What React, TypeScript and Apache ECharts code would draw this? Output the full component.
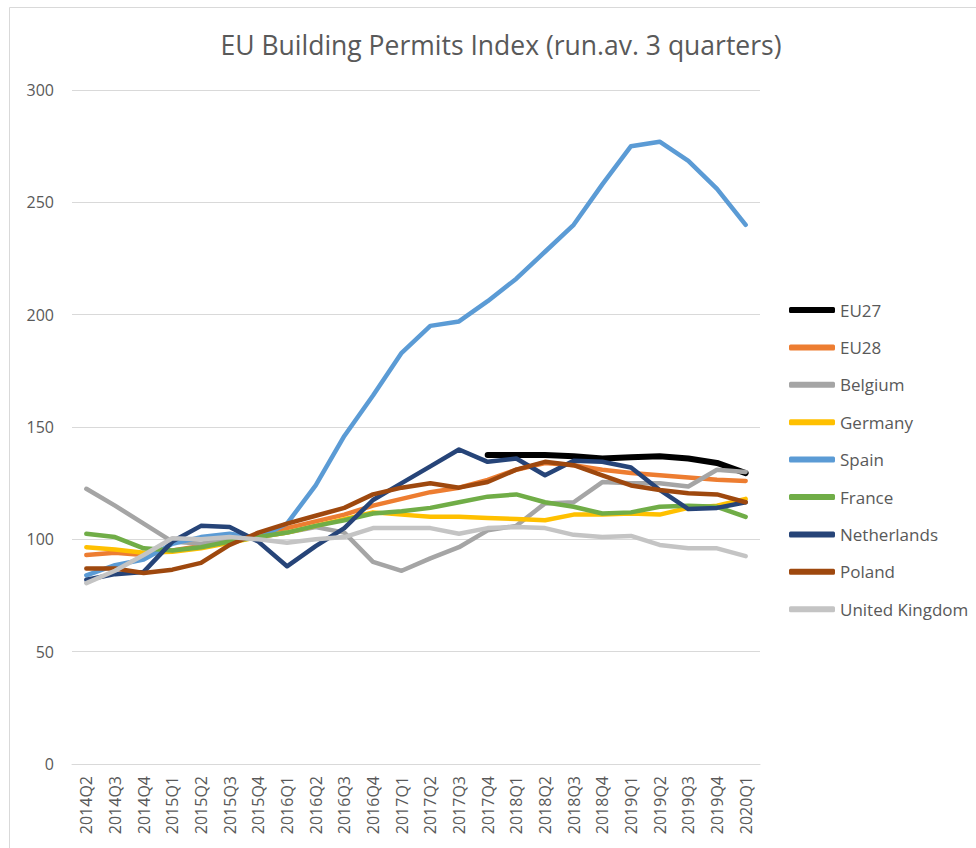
import React, { useEffect, useRef } from "react";
import * as echarts from "echarts";

const categories = [
  "2014Q2", "2014Q3", "2014Q4", "2015Q1", "2015Q2", "2015Q3", "2015Q4", "2016Q1",
  "2016Q2", "2016Q3", "2016Q4", "2017Q1", "2017Q2", "2017Q3", "2017Q4", "2018Q1",
  "2018Q2", "2018Q3", "2018Q4", "2019Q1", "2019Q2", "2019Q3", "2019Q4", "2020Q1",
];

const eu27 = [null, null, null, null, null, null, null, null, null, null, null, null, null, null,
  137.5, 137.5, 137.5, 137, 136, 136.5, 137, 136, 134, 129.5];
const eu28 = [93, 94, 93, 95, 97, 99, 102, 105, 108, 111, 115, 118, 121, 123, 126.5, 131, 134, 133, 131, 129.5, 128.5, 127.5, 126.5, 126];
const belgium = [122.5, 115, 107, 99, 98, 100, 101, 103, 105.5, 103, 90, 86, 91.5, 96.5, 104, 106, 116, 116.5, 125.5, 125, 125, 123.5, 131, 130];
const germany = [96.5, 95.5, 94, 94.5, 96, 98.5, 101, 103, 106, 109, 112, 111, 110, 110, 109.5, 109, 108.5, 111, 111, 111.5, 111, 114, 115, 118];
const spain = [84, 88.5, 91, 98, 101, 102.5, 100.5, 107, 124, 146, 164, 183, 195, 197, 206, 216, 228, 240, 258, 275, 277, 268.5, 256, 240];
const france = [102.5, 101, 96, 95, 96.5, 99, 101, 103, 106, 108.5, 111.5, 112.5, 114, 116.5, 119, 120, 116.5, 114.5, 111.5, 112, 114.5, 115, 114.5, 110];
const netherlands = [82, 84.5, 85.5, 99, 106, 105.5, 99, 88, 97, 105, 117.5, 125, 132.5, 140, 134.5, 136, 128.5, 135, 134.5, 132, 122, 113.5, 114, 116.5];
const poland = [87, 87, 85, 86.5, 89.5, 97.5, 103, 107, 110.5, 114, 120, 123, 125, 123, 125.5, 131, 134.5, 133, 128.5, 124, 122, 120.5, 120, 116.5];
const uk = [80.5, 86, 93, 100.5, 100, 101, 100, 98.5, 100, 101, 105, 105, 105, 102.5, 105, 105.5, 105, 102, 101, 101.5, 97.5, 96, 96, 92.5];

const seriesNames = ["EU27", "EU28", "Belgium", "Germany", "Spain", "France", "Netherlands", "Poland", "United Kingdom"];
const seriesData = [eu27, eu28, belgium, germany, spain, france, netherlands, poland, uk];
const seriesColors = ["#000000", "#ED7D31", "#A5A5A5", "#FFC000", "#5B9BD5", "#70AD47", "#264478", "#9E480E", "#C4C4C4"];

const FONT = "'Open Sans', 'Noto Sans', sans-serif";
const TEXT = "#595959";

export default function App() {
  const ref = useRef<HTMLDivElement>(null);
  useEffect(() => {
    document.body.style.margin = "0";
    if (!ref.current) return;
    const chart = echarts.init(ref.current, undefined, { renderer: "svg" });
    chart.setOption({
      animation: false,
      backgroundColor: "#ffffff",
      title: {
        text: "EU Building Permits Index (run.av. 3 quarters)",
        left: 496,
        top: 26,
        textAlign: "center",
        textStyle: { fontFamily: FONT, fontSize: 26.5, fontWeight: "normal", color: TEXT },
      },
      graphic: [
        {
          type: "rect",
          shape: { x: 9.5, y: 7.5, width: 1100, height: 1100 },
          style: { fill: "none", stroke: "#D9D9D9", lineWidth: 1 },
          silent: true,
        },
      ],
      legend: {
        orient: "vertical",
        left: 784,
        top: 295,
        itemWidth: 46,
        itemHeight: 6,
        itemGap: 17.4,
        icon: "roundRect",
        data: seriesNames,
        textStyle: { fontFamily: FONT, fontSize: 17, color: TEXT, lineHeight: 20 },
      },
      grid: { left: 72, right: 216, top: 90, bottom: 84, containLabel: false },
      xAxis: {
        type: "category",
        data: categories,
        boundaryGap: true,
        axisLine: { lineStyle: { color: "#D9D9D9", width: 1 } },
        axisTick: { show: false },
        axisLabel: { rotate: 90, fontFamily: FONT, fontSize: 16, color: TEXT, margin: 12, interval: 0 },
      },
      yAxis: {
        type: "value",
        min: 0,
        max: 300,
        interval: 50,
        axisLine: { show: false },
        axisTick: { show: false },
        splitLine: { lineStyle: { color: "#D9D9D9", width: 1 } },
        axisLabel: { fontFamily: FONT, fontSize: 16, color: TEXT, margin: 18 },
      },
      series: seriesNames.map((name, i) => ({
        name,
        type: "line",
        data: seriesData[i],
        symbol: "none",
        connectNulls: false,
        lineStyle: { color: seriesColors[i], width: i === 0 ? 6 : 4.5, cap: "round", join: "round" },
        itemStyle: { color: seriesColors[i] },
      })),
    });
    return () => chart.dispose();
  }, []);
  return <div ref={ref} style={{ width: 976, height: 848 }} />;
}
